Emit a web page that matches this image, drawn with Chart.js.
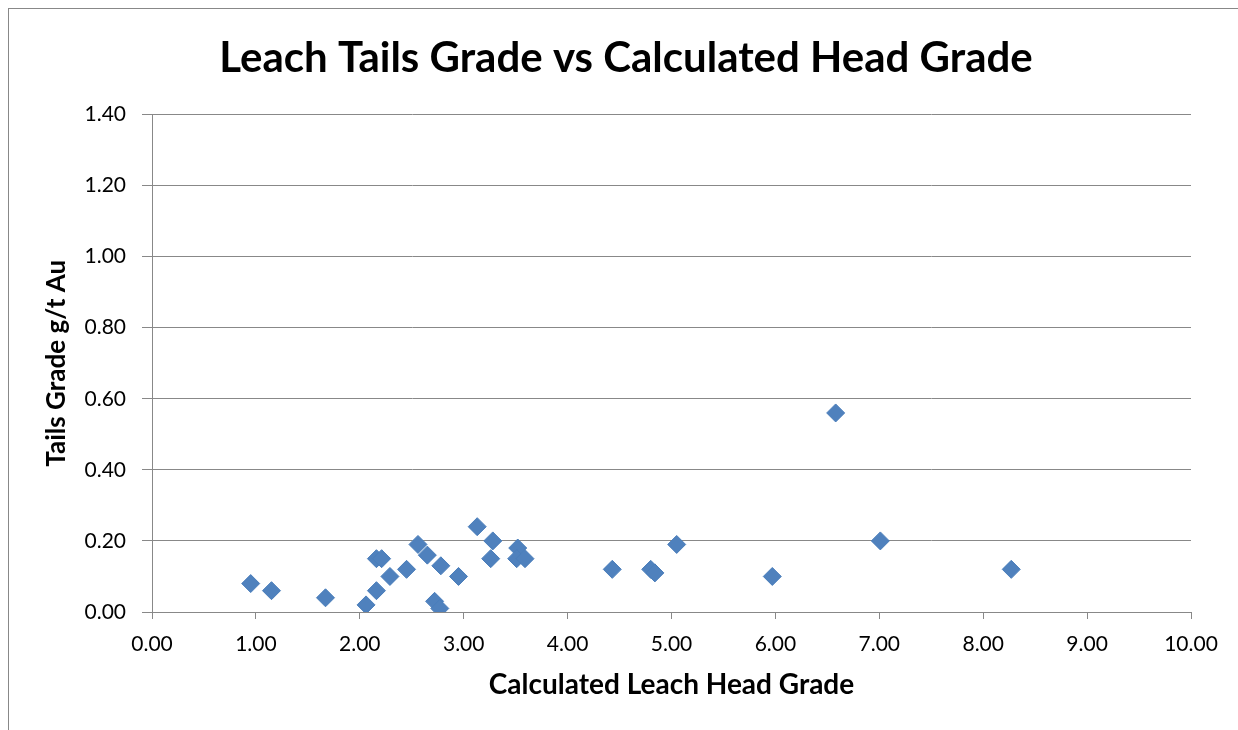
<!DOCTYPE html>
<html>
<head>
<meta charset="utf-8">
<script src="https://cdn.jsdelivr.net/npm/chart.js@4"></script>
<style>
  body { margin: 0; background: #fff; }
</style>
</head>
<body>
<canvas id="grafico" width="1238" height="730"></canvas>
<script>
// valores
const headGrade = [0.95, 1.15, 1.67, 2.06, 2.16, 2.16, 2.21, 2.29, 2.45, 2.56, 2.65, 2.78, 2.72, 2.77, 2.95,
    3.13, 3.28, 3.26, 3.52, 3.51, 3.59, 4.43, 4.80, 4.84, 5.05, 5.97, 6.58, 7.01, 8.27];
const tailsGrade = [0.08, 0.06, 0.04, 0.02, 0.06, 0.15, 0.15, 0.10, 0.12, 0.19, 0.16, 0.13, 0.03, 0.01, 0.10,
    0.24, 0.20, 0.15, 0.18, 0.15, 0.15, 0.12, 0.12, 0.11, 0.19, 0.10, 0.56, 0.20, 0.12];
const xTicks = [0, 1, 2, 3, 4, 5, 6, 7, 8, 9, 10];
const yTicks = [0, 0.2, 0.4, 0.6, 0.8, 1.0, 1.2, 1.4];

const pontos = headGrade.map((x, i) => ({ x: x, y: tailsGrade[i] }));

const fonte = "Lato, 'Open Sans', sans-serif";
const cinza = '#888888';

// moldura do gráfico (só topo e esquerda aparecem)
const moldura = {
    id: 'moldura',
    beforeDraw(chart) {
        const ctx = chart.ctx;
        ctx.save();
        ctx.fillStyle = '#ffffff';
        ctx.fillRect(0, 0, chart.width, chart.height);
        ctx.strokeStyle = cinza;
        ctx.lineWidth = 1;
        ctx.strokeRect(8.5, 8.5, 1400, 900);
        ctx.restore();
    }
};

var configuracao = {
    type: 'scatter',
    data: {
        datasets: [{
            label: 'Tails',
            data: pontos,
            pointStyle: 'rectRot',
            pointRadius: 9,
            pointHoverRadius: 9,
            backgroundColor: '#4F81BD',
            borderColor: '#4A7EBB',
            borderWidth: 1
        }]
    },
    options: {
        responsive: false,
        animation: false,
        devicePixelRatio: 1,
        layout: { padding: { left: 14, right: 0, top: 0, bottom: 0 } },
        plugins: {
            legend: { display: false },
            tooltip: { enabled: false },
            title: {
                display: true,
                text: 'Leach Tails Grade vs Calculated Head Grade',
                color: '#000',
                font: { family: fonte, size: 42, weight: 'bold' },
                padding: { top: 33, bottom: 31 }
            }
        },
        scales: {
            x: {
                type: 'linear',
                min: xTicks[0],
                max: xTicks[xTicks.length - 1],
                afterBuildTicks: s => { s.ticks = xTicks.map(v => ({ value: v })); },
                afterFit: s => { s.height = 118; },
                border: { color: cinza, width: 1 },
                grid: { display: true, drawOnChartArea: false, color: cinza, tickLength: 7 },
                ticks: {
                    color: '#000',
                    padding: 13,
                    font: { family: fonte, size: 21 },
                    callback: v => Number(v).toFixed(2)
                },
                title: {
                    display: true,
                    text: 'Calculated Leach Head Grade',
                    color: '#000',
                    font: { family: fonte, size: 28, weight: 'bold' },
                    padding: { top: 0, bottom: 28 }
                }
            },
            y: {
                type: 'linear',
                min: yTicks[0],
                max: yTicks[yTicks.length - 1],
                afterBuildTicks: s => { s.ticks = yTicks.map(v => ({ value: v })); },
                afterFit: s => { s.width = 138; },
                border: { color: cinza, width: 1 },
                grid: { color: cinza, tickLength: 10 },
                ticks: {
                    color: '#000',
                    padding: 16,
                    font: { family: fonte, size: 21 },
                    callback: v => Number(v).toFixed(2)
                },
                title: {
                    display: true,
                    text: 'Tails Grade g/t Au',
                    color: '#000',
                    font: { family: fonte, size: 26, weight: 'bold' },
                    padding: { top: 27, bottom: 0 }
                }
            },
            // eixo vazio à direita, só para reservar o espaço
            direita: {
                type: 'linear',
                position: 'right',
                display: true,
                afterFit: s => { s.width = 47; },
                border: { display: false },
                grid: { display: false },
                ticks: { display: false }
            }
        }
    },
    plugins: [moldura]
};

var meuGrafico = new Chart(document.getElementById('grafico'), configuracao);
</script>
</body>
</html>
